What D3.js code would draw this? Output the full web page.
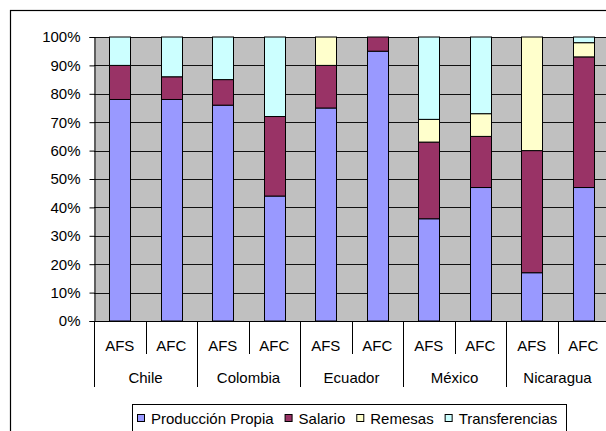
<!DOCTYPE html>
<html>
<head>
<meta charset="utf-8">
<script src="https://cdn.jsdelivr.net/npm/d3@7"></script>
<style>
  html, body { margin: 0; padding: 0; background: #fff; }
  svg { display: block; font-family: "Liberation Sans", Arial, sans-serif; }
</style>
</head>
<body>
<svg id="chart" width="606" height="431"></svg>
<script>
// Income composition by country and farm type (shares, %)
const countries = ["Chile", "Colombia", "Ecuador", "México", "Nicaragua"];
const farmTypes = ["AFS", "AFC"];
const seriesNames = ["Producción Propia", "Salario", "Remesas", "Transferencias"];
const seriesColors = ["#9999FF", "#993366", "#FFFFCC", "#CCFFFF"];

// One entry per bar, in the order Chile AFS, Chile AFC, Colombia AFS, ...
const produccionPropia = [78, 78, 76, 44, 75, 95, 36, 47, 17, 47];
const salario          = [12,  8,  9, 28, 15,  5, 27, 18, 43, 46];
const remesas          = [ 0,  0,  0,  0, 10,  0,  8,  8, 40,  5];
const transferencias   = [10, 14, 15, 28,  0,  0, 29, 27,  0,  2];

const yTicks = [0, 10, 20, 30, 40, 50, 60, 70, 80, 90, 100];

const FONT = 15;
const svg = d3.select("#chart");
const plot = { left: 94, top: 37, right: 609, bottom: 321 };

// Outer chart frame (extends past the right and bottom edges)
svg.append("rect")
  .attr("x", 10.5).attr("y", 10.5)
  .attr("width", 620).attr("height", 440)
  .attr("fill", "#fff").attr("stroke", "#000").attr("stroke-width", 1.2);

const bars = [];
countries.forEach((c, ci) => farmTypes.forEach((t, ti) => {
  const i = ci * farmTypes.length + ti;
  bars.push({ key: c + "|" + t, country: c, type: t,
    values: [produccionPropia[i], salario[i], remesas[i], transferencias[i]] });
}));

const x = d3.scaleBand()
  .domain(bars.map(d => d.key))
  .range([plot.left, plot.right])
  .paddingInner(0.6).paddingOuter(0.3);
const step = x.step();

const y = d3.scaleLinear().domain([0, 100]).range([plot.bottom, plot.top]);

// Plot background
svg.append("rect")
  .attr("x", plot.left).attr("y", plot.top)
  .attr("width", plot.right - plot.left).attr("height", plot.bottom - plot.top)
  .attr("fill", "#C0C0C0");

// Horizontal gridlines
svg.append("g").selectAll("line").data(yTicks).join("line")
  .attr("x1", plot.left).attr("x2", plot.right)
  .attr("y1", d => Math.round(y(d)) + 0.5).attr("y2", d => Math.round(y(d)) + 0.5)
  .attr("stroke", "#111").attr("stroke-width", 1);

// Stacked bars
const stack = d3.stack().keys(d3.range(seriesNames.length))
  .value((d, k) => d.values[k]);
const layers = stack(bars);

svg.append("g").selectAll("g").data(layers).join("g")
  .attr("fill", (d, i) => seriesColors[i])
  .selectAll("rect").data(d => d.filter(s => s[1] - s[0] > 0)).join("rect")
  .attr("x", d => Math.round(x(d.data.key)) + 0.5)
  .attr("width", Math.round(x.bandwidth()))
  .attr("y", d => y(d[1]))
  .attr("height", d => y(d[0]) - y(d[1]))
  .attr("stroke", "#000").attr("stroke-width", 1);

// Y axis
const yAxis = d3.axisLeft(y).tickValues(yTicks)
  .tickFormat(d => d + "%").tickSize(5).tickPadding(9);
const gy = svg.append("g")
  .attr("transform", `translate(${plot.left + 0.5},0)`)
  .call(yAxis);
gy.select(".domain").attr("stroke", "#000");
gy.selectAll(".tick line").attr("stroke", "#000");
gy.selectAll("text").attr("fill", "#000").attr("font-size", FONT)
  .attr("font-family", "Liberation Sans, Arial, sans-serif");

// Category axis: baseline, separators and two label rows
const gx = svg.append("g");
gx.append("line")
  .attr("x1", plot.left).attr("x2", plot.right)
  .attr("y1", plot.bottom + 0.5).attr("y2", plot.bottom + 0.5)
  .attr("stroke", "#000");

const groupStart = x.range()[0];
bars.forEach((d, i) => {
  const xs = groupStart + i * step;
  const isGroup = i % farmTypes.length === 0;
  gx.append("line")
    .attr("x1", Math.round(xs) + 0.5).attr("x2", Math.round(xs) + 0.5)
    .attr("y1", plot.bottom).attr("y2", isGroup ? 387 : 354)
    .attr("stroke", "#000");
  gx.append("text")
    .attr("x", xs + step / 2).attr("y", 350.5)
    .attr("text-anchor", "middle").attr("font-size", FONT)
    .text(d.type);
});
countries.forEach((c, ci) => {
  gx.append("text")
    .attr("x", groupStart + (ci + 0.5) * step * farmTypes.length)
    .attr("y", 382.5)
    .attr("text-anchor", "middle").attr("font-size", FONT)
    .text(c);
});

// Legend
const legend = svg.append("g");
legend.append("rect")
  .attr("x", 132.5).attr("y", 404.5)
  .attr("width", 434).attr("height", 40)
  .attr("fill", "#fff").attr("stroke", "#000");
let lx = 137;
seriesNames.forEach((name, i) => {
  legend.append("rect")
    .attr("x", lx + 0.5).attr("y", 414.5).attr("width", 7).attr("height", 7)
    .attr("fill", seriesColors[i]).attr("stroke", "#000");
  const t = legend.append("text")
    .attr("x", lx + 14).attr("y", 423.5)
    .attr("font-size", FONT).text(name);
  lx += 14 + t.node().getComputedTextLength() + 11;
});
</script>
</body>
</html>
